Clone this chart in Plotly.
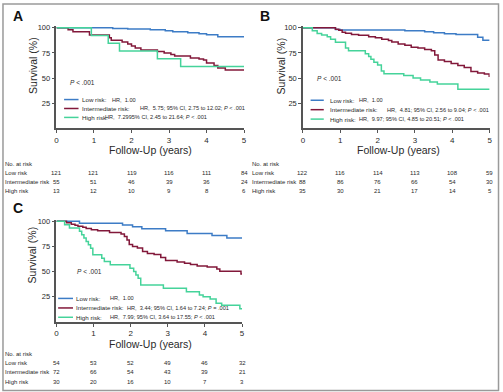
import plotly.graph_objects as go

W, H = 503, 392

# ---------------- data ----------------
risk_groups = ["Low risk", "Intermediate risk", "High risk"]
years_ticks = [0, 1, 2, 3, 4, 5]
surv_ticks = [25, 50, 75, 100]

# Panel A
A_low_t = [0, 1.5, 1.9, 2.5, 2.9, 3.1, 3.5, 3.8, 4.0, 4.3, 5.0]
A_low_s = [100, 99.2, 98.8, 98, 97, 96, 95, 94, 93, 91, 91]
A_int_t = [0, 0.31, 0.44, 0.88, 1.41, 1.46, 1.75, 1.9, 2.0, 2.1, 2.25, 2.69, 2.87, 3.05, 3.15, 3.57, 3.8, 3.92, 4.0, 4.2, 4.3, 4.5, 5.0]
A_int_s = [100, 98, 96, 92.8, 90, 87.5, 86, 84, 82, 80, 78, 76.5, 75, 73.5, 72, 70, 69, 68, 65, 62.5, 60, 58, 58]
A_high_t = [0, 0.93, 1.38, 1.68, 2.69, 3.31, 5.0]
A_high_s = [100, 92.3, 84.6, 76.9, 69.2, 61.5, 61.5]
A_at_risk_low = [121, 121, 119, 116, 111, 84]
A_at_risk_int = [55, 51, 46, 39, 36, 24]
A_at_risk_high = [13, 12, 10, 9, 8, 6]
A_hr = ["HR,  1.00",
        "HR,  5.75; 95% CI, 2.75 to 12.02; <i>P</i> < .001",
        "HR,  7.2995% CI, 2.45 to 21.64; <i>P</i> < .001"]

# Panel B
B_low_t = [0, 0.87, 1.0, 2.73, 3.26, 3.5, 3.79, 4.1, 4.68, 4.82, 5.0]
B_low_s = [100, 98.4, 97.8, 97, 96, 95.2, 94, 93.3, 90.5, 87.5, 87.5]
B_int_t = [0, 0.87, 0.96, 1.05, 1.14, 1.3, 1.49, 1.76, 1.94, 2.11, 2.29, 2.38, 2.55, 2.73, 2.9, 3.08, 3.26, 3.44, 3.53, 3.62, 3.79, 3.97, 4.15, 4.32, 4.5, 4.68, 4.86, 4.99]
B_int_s = [100, 98.5, 97.5, 95.7, 94.5, 93.4, 92.7, 91, 90, 88.6, 87.3, 86, 84, 82.6, 80.7, 80, 78.5, 77.2, 73, 68, 66.5, 64.5, 62.5, 60.5, 56.5, 55, 54, 51]
B_high_t = [0, 0.25, 0.38, 0.5, 0.65, 0.74, 0.87, 1.14, 1.22, 1.67, 1.76, 1.82, 1.9, 2.0, 2.1, 2.17, 2.7, 2.95, 3.15, 3.4, 3.6, 4.15, 5.0]
B_high_s = [100, 97.1, 94.3, 92.8, 91, 88.6, 85.7, 80, 77.1, 74.3, 71.4, 68.6, 65.7, 62.9, 57.1, 54.3, 52.5, 50, 48, 46, 44, 39, 39]
B_at_risk_low = [122, 116, 114, 113, 108, 59]
B_at_risk_int = [88, 86, 76, 66, 54, 30]
B_at_risk_high = [35, 30, 21, 17, 14, 5]
B_hr = ["HR,  1.00",
        "HR,  4.81; 95% CI, 2.56 to 9.04; <i>P</i> < .001",
        "HR,  9.97; 95% CI, 4.85 to 20.51; <i>P</i> < .001"]

# Panel C
C_low_t = [0, 0.62, 1.78, 2.05, 2.3, 2.94, 3.52, 4.19, 4.59, 5.0]
C_low_s = [100, 98.1, 96.3, 94.5, 92.5, 90.5, 88, 86, 83.5, 83.5]
C_int_t = [0, 0.27, 0.4, 0.5, 0.58, 0.71, 0.8, 0.94, 1.11, 1.43, 1.74, 1.83, 1.9, 1.96, 2.05, 2.18, 2.32, 2.45, 2.63, 2.81, 2.94, 3.25, 3.45, 3.61, 3.79, 4.06, 4.32, 4.4, 4.97, 5.0]
C_int_s = [100, 98.6, 97.2, 96, 95, 94, 92.8, 91.5, 90.5, 89, 87.5, 85, 81.5, 77, 75, 73.5, 70, 68, 67, 64, 61, 59.5, 58.2, 57, 55.5, 54.5, 52.5, 50.3, 47.7, 47.7]
C_high_t = [0, 0.22, 0.35, 0.62, 0.68, 0.74, 0.8, 0.86, 0.92, 0.98, 1.22, 1.29, 1.45, 1.98, 2.08, 2.14, 2.2, 2.27, 2.88, 3.5, 3.85, 3.95, 4.14, 4.3, 4.45, 4.94, 5.0]
C_high_s = [100, 96.7, 93.3, 90, 86.7, 83.3, 80, 76.7, 73.3, 66.7, 63.3, 60, 56.7, 53.3, 50, 46.7, 43.3, 36.7, 33.3, 30, 26.7, 25, 22.7, 18.4, 16.5, 13, 13]
C_at_risk_low = [54, 53, 52, 49, 46, 32]
C_at_risk_int = [72, 66, 54, 43, 39, 21]
C_at_risk_high = [30, 20, 16, 10, 7, 3]
C_hr = ["HR,  1.00",
        "HR,  3.44; 95% CI, 1.64 to 7.24; <i>P</i> = .001",
        "HR,  7.99; 95% CI, 3.64 to 17.55; <i>P</i> < .001"]

# ---------------- styling ----------------
COLORS = ["#3d7cc6", "#82183a", "#45d39a"]
FONT = "Liberation Sans, Arial, sans-serif"
TXT = "#2a2a2a"
AX = "#555555"
SMALL = 6.0

def px(x):
    return x / W

def py(y):
    return 1 - y / H

fig = go.Figure()

panels = [
    dict(letter="A", ax="", t=[A_low_t, A_int_t, A_high_t], s=[A_low_s, A_int_s, A_high_s],
         risk=[A_at_risk_low, A_at_risk_int, A_at_risk_high], hr=A_hr,
         x0=55, x1=244.5, y0=126.3, letter_xy=(16.5, 13),
         ytitle=(30.7, 63), xtitle=(150, 148.5), pval=(68, 80),
         leg_line=(62.7, 77.3), leg_text=80, leg_y=[97.3, 106.3, 115.3], hr_x=[110, 138, 103],
         tab_label_x=2, tab_y=[162, 171, 180, 189]),
    dict(letter="B", ax="2", t=[B_low_t, B_int_t, B_high_t], s=[B_low_s, B_int_s, B_high_s],
         risk=[B_at_risk_low, B_at_risk_int, B_at_risk_high], hr=B_hr,
         x0=304, x1=492.5, y0=126.3, letter_xy=(266, 13.5),
         ytitle=(281.7, 63), xtitle=(400.7, 148.5), pval=(317, 76),
         leg_line=(311.7, 325), leg_text=330, leg_y=[98, 107.5, 117], hr_x=[360, 388, 360],
         tab_label_x=251, tab_y=[162, 171, 180, 189]),
    dict(letter="C", ax="3", t=[C_low_t, C_int_t, C_high_t], s=[C_low_s, C_int_s, C_high_s],
         risk=[C_at_risk_low, C_at_risk_int, C_at_risk_high], hr=C_hr,
         x0=55, x1=242.5, y0=321.3, letter_xy=(16.5, 206.7),
         ytitle=(30.7, 254), xtitle=(150, 343.5), pval=(75, 270.7),
         leg_line=(56.7, 71.7), leg_text=74, leg_y=[297.7, 307.3, 316.7], hr_x=[108.3, 125, 108.3],
         tab_label_x=2, tab_y=[353.3, 362.7, 372.3, 381.7]),
]

PX_PER_PCT = 1.013
Y_TOP = 101.5

annotations = []
shapes = []
layout_axes = {}

for p in panels:
    xa = "x" + p["ax"]
    ya = "y" + p["ax"]
    for i in range(3):
        fig.add_trace(go.Scatter(
            x=p["t"][i], y=p["s"][i], mode="lines", line_shape="hv",
            line=dict(color=COLORS[i], width=1.5),
            xaxis=xa, yaxis=ya, showlegend=False, hoverinfo="skip"))
    ytop_px = p["y0"] - Y_TOP * PX_PER_PCT
    layout_axes["xaxis" + p["ax"]] = dict(
        domain=[px(p["x0"]), px(p["x1"])], range=[0, 5.0], anchor=ya,
        tickvals=years_ticks, ticks="outside", ticklen=3, tickcolor=AX, tickwidth=1,
        showline=True, linecolor=AX, linewidth=1.5, showgrid=False, zeroline=False,
        tickfont=dict(family=FONT, size=8, color=TXT))
    layout_axes["yaxis" + p["ax"]] = dict(
        domain=[py(p["y0"]), py(ytop_px)], range=[0, Y_TOP], anchor=xa,
        tickvals=surv_ticks, ticks="outside", ticklen=3, tickcolor=AX, tickwidth=1,
        showline=True, linecolor=AX, linewidth=1.5, showgrid=False, zeroline=False,
        tickfont=dict(family=FONT, size=7.5, color=TXT))

    def ann(x, y, text, size, xanchor="left", **kw):
        d = dict(x=px(x), y=py(y), xref="paper", yref="paper", text=text, showarrow=False,
                 xanchor=xanchor, yanchor="middle", borderpad=0,
                 font=dict(family=FONT, size=size, color=TXT))
        d.update(kw)
        annotations.append(d)

    # panel letter
    ann(p["letter_xy"][0], p["letter_xy"][1], "<b>" + p["letter"] + "</b>", 14, xanchor="center",
        font=dict(family=FONT, size=14, color="#111"))
    # axis titles
    ann(p["ytitle"][0], p["ytitle"][1], "Survival (%)", 10.5, xanchor="center", textangle=-90)
    ann(p["xtitle"][0], p["xtitle"][1], "Follow-Up (years)", 10.5, xanchor="center")
    # p value
    ann(p["pval"][0], p["pval"][1], "<i>P</i> < .001", 6.5)
    # legend
    for i in range(3):
        yy = p["leg_y"][i]
        shapes.append(dict(type="line", xref="paper", yref="paper",
                           x0=px(p["leg_line"][0]), x1=px(p["leg_line"][1]), y0=py(yy), y1=py(yy),
                           line=dict(color=COLORS[i], width=1.5)))
        ann(p["leg_text"], yy, risk_groups[i] + ":", 6.2)
        ann(p["hr_x"][i], yy, p["hr"][i], 5.6)
    # risk table
    ann(p["tab_label_x"], p["tab_y"][0], "No. at risk", SMALL)
    for i in range(3):
        yy = p["tab_y"][i + 1]
        ann(p["tab_label_x"], yy, risk_groups[i], SMALL)
        for k, v in enumerate(p["risk"][i]):
            annotations.append(dict(x=years_ticks[k], y=py(yy), xref=xa, yref="paper", text=str(v),
                                    showarrow=False, xanchor="center", yanchor="middle", borderpad=0,
                                    font=dict(family=FONT, size=SMALL, color=TXT)))

# outer frame
shapes.append(dict(type="rect", xref="paper", yref="paper", x0=px(1), x1=px(501.5),
                   y0=py(390.5), y1=py(1), line=dict(color="#9a9a9a", width=1.5)))

fig.update_layout(
    width=W, height=H, margin=dict(l=0, r=0, t=0, b=0),
    paper_bgcolor="white", plot_bgcolor="white",
    annotations=annotations, shapes=shapes, showlegend=False,
    **layout_axes)

fig.write_html("out.html", config={"displayModeBar": False},
               post_script="document.body.style.margin='0';document.body.style.padding='0';")
